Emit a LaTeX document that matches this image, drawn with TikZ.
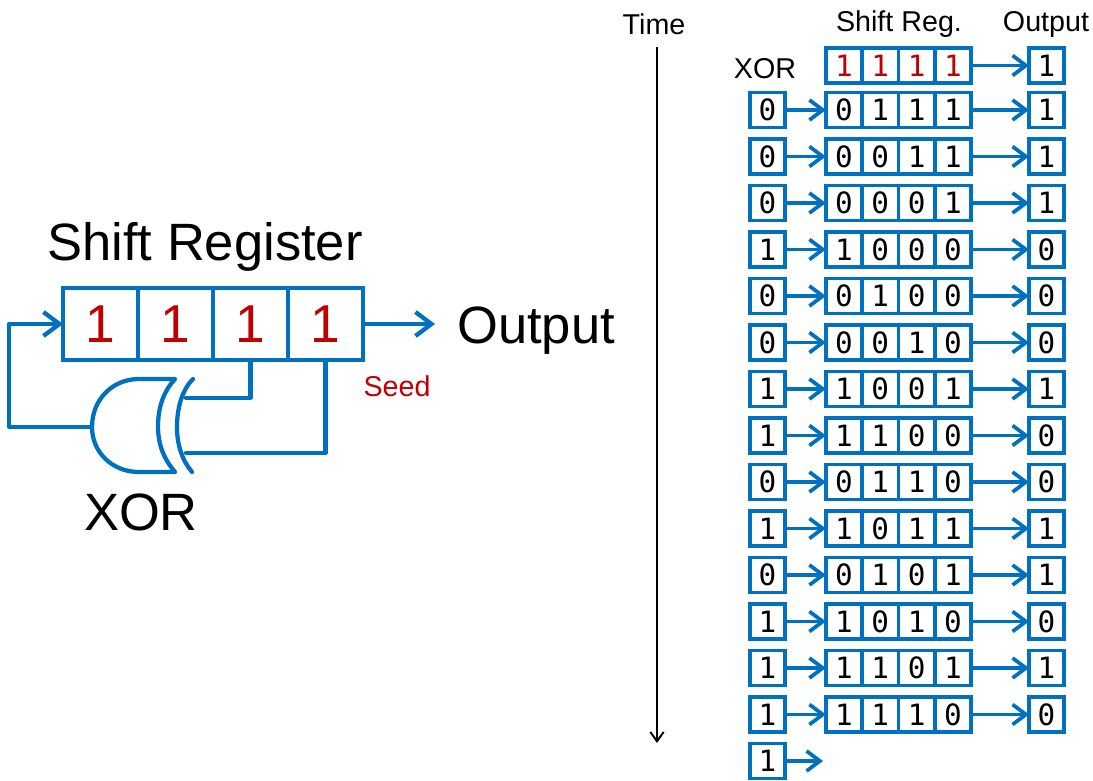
\documentclass[tikz,border=0pt]{standalone}
\usepackage{fontspec}
\setmainfont{Liberation Sans}
\setmonofont{DejaVu Sans Mono}
\usepackage{xcolor}
\usetikzlibrary{arrows.meta}
\definecolor{wireblue}{HTML}{0070C0}
\definecolor{seedred}{HTML}{C00000}
\tikzset{
  wire/.style={wireblue,line width=3.2pt,line join=round,line cap=round},
  flow/.style={wireblue,line width=2.8pt,line join=round,-{Straight Barb[length=10pt,width=15pt,line width=2.8pt]}},
  bigflow/.style={wireblue,line width=3.2pt,line join=round,-{Straight Barb[length=12pt,width=18pt,line width=3.2pt]}},
  bigcell/.style={draw=wireblue,line width=3.2pt,minimum width=56.25pt,minimum height=54.5pt,inner sep=0pt,outer sep=0pt,text=seedred,font=\fontsize{40}{40}\selectfont},
  bitcell/.style={draw=wireblue,line width=2.8pt,minimum width=27.2pt,minimum height=26.2pt,inner sep=0pt,outer sep=0pt,font=\ttfamily\fontsize{22}{22}\selectfont},
  bitbox/.style={bitcell,minimum width=26.2pt},
  biglabel/.style={font=\fontsize{39.4}{39.4}\selectfont,inner sep=0pt},
  smalllabel/.style={font=\fontsize{21.5}{21.5}\selectfont,inner sep=0pt}
}

\begin{document}
\begin{tikzpicture}[x=0.75pt,y=-0.75pt]
  \useasboundingbox (0,0) rectangle (1093,781);
  % left part
  \node[biglabel] (regtitle) at (205,247) {Shift Register};
  \foreach \cell/\xpos in {1/100.5,2/175.5,3/250.5,4/325.5}
    \node[bigcell] (big\cell) at (\xpos,324) {1};
  \node[biglabel] (outlabel) at (536,331) {Output};
  \node[smalllabel,text=seedred] (seedlabel) at (397,386) {Seed};
  \node[biglabel] (xorlabel) at (141,512) {XOR};
  \coordinate (outtip) at (435,324);
  \coordinate (gateout) at (92,427);
  \coordinate (gatea) at (186,398);
  \coordinate (gateb) at (186,453);
  \draw[bigflow] (big4.east) -- (outtip);
  \draw[wire] (big3.south) |- (gatea);
  \draw[wire] (big4.south) |- (gateb);
  \draw[wire] (139,379) .. controls (112,379) and (92,400) .. (gateout)
    .. controls (92,452) and (112,472) .. (139,472) -- (175,472)
    .. controls (163,458) and (158,443) .. (158,427)
    .. controls (158,408) and (163,392) .. (175,379) -- cycle;
  \draw[wire] (193,379) .. controls (182,390) and (177,408) .. (177,427)
    .. controls (177,445) and (182,460) .. (192,472);
  \draw[bigflow] (gateout) -- (9,427) |- (big1.west);
  % time axis
  \node[smalllabel] (timelabel) at (654,24) {Time};
  \coordinate (timetop) at (657,47);
  \coordinate (timebot) at (657,743);
  \draw[line width=1.5pt,-{Straight Barb[length=7pt,width=10pt,line width=1.5pt]}] (timetop) -- (timebot);
  % table heads
  \node[smalllabel] (reghead) at (899,24) {Shift Reg.};
  \node[smalllabel] (outhead) at (1046,24) {Output};
  \node[smalllabel] (xorhead) at (765,69) {XOR};
  % seed row
  \foreach \col/\xpos in {a/844,b/880.3,c/916.6,d/953}
    \node[bitcell,text=seedred] (s\col) at (\xpos,65.5) {1};
  \node[bitbox] (sout) at (1046.5,65.5) {1};
  \draw[flow] (sd.east) -- (sout.west);
  % one row per clock
  \foreach \row/\xorbit/\ba/\bb/\bc/\bd/\outbit/\drop in {
    1/0/0/1/1/1/1/0,2/0/0/0/1/1/1/2,3/0/0/0/0/1/1/2,4/1/1/0/0/0/0/2,
    5/0/0/1/0/0/0/1,6/0/0/0/1/0/0/1,7/1/1/0/0/1/1/2,8/1/1/1/0/0/0/0,
    9/0/0/1/1/0/0/1,10/1/1/0/1/1/1/2,11/0/0/1/0/1/1/1,12/1/1/0/1/0/0/1,
    13/1/1/1/0/1/1/2,14/1/1/1/1/0/0/1}{
    \pgfmathsetmacro\ypos{110+46.5*(\row-1)}
    \node[bitbox] (x\row) at (767.5,\ypos) {\xorbit};
    \node[bitcell] (r\row a) at (844,\ypos) {\ba};
    \node[bitcell] (r\row b) at (880.3,\ypos) {\bb};
    \node[bitcell] (r\row c) at (916.6,\ypos) {\bc};
    \node[bitcell] (r\row d) at (953,\ypos) {\bd};
    \node[bitbox] (o\row) at (1046.5,\ypos) {\raisebox{-\drop pt}{\outbit}};
    \draw[flow] (x\row.east) -- (r\row a.west);
    \draw[flow] (r\row d.east) -- (o\row.west);
  }
  % last bit
  \node[bitbox] (xlast) at (767.5,761) {1};
  \coordinate (lasttip) at (823,761);
  \draw[flow] (xlast.east) -- (lasttip);
\end{tikzpicture}
\end{document}
